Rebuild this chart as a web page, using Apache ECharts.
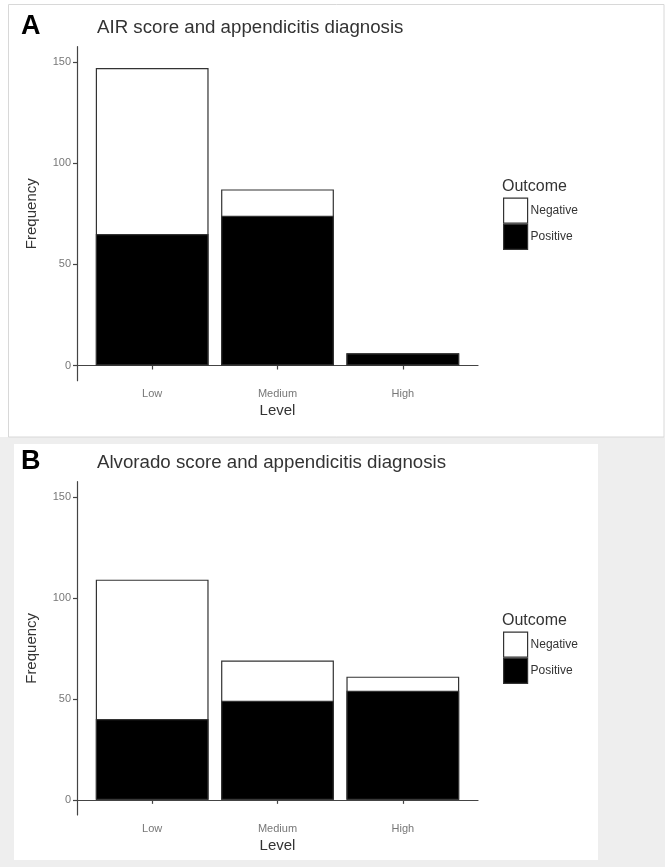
<!DOCTYPE html>
<html>
<head>
<meta charset="utf-8">
<script src="https://cdn.jsdelivr.net/npm/echarts@6/dist/echarts.min.js"></script>
<style>html,body{margin:0;padding:0;background:#fff}#c{width:665px;height:867px}</style>
</head>
<body>
<div id="c"></div>
<script>
const categories = ['Low', 'Medium', 'High'];
const airPositive = [65, 74, 6];
const airNegative = [82, 13, 0];
const alvPositive = [40, 49, 54];
const alvNegative = [69, 20, 7];
const yTicks = [0, 50, 100, 150];
const panelTitles = ['AIR score and appendicitis diagnosis', 'Alvorado score and appendicitis diagnosis'];
const panelLetters = ['A', 'B'];
const seriesNames = ['Negative', 'Positive'];

const FONT = 'Liberation Sans, Arial, Helvetica, sans-serif';
const xPos = categories.map((c, i) => i + 1);
const chart = echarts.init(document.getElementById('c'), null, {renderer: 'canvas'});

const grids = [
  {left: 77, top: 46.7, width: 401, height: 334},
  {left: 77, top: 481.7, width: 401, height: 333.3}
];
const axisLine = {show: true, lineStyle: {color: '#444', width: 1.2}};
function xAxis(i) {
  return {
    type: 'value', gridIndex: i, min: 0.4, max: 3.6,
    name: 'Level', nameLocation: 'middle', nameGap: 23,
    nameTextStyle: {fontFamily: FONT, fontSize: 15, color: '#333'},
    axisLine: axisLine,
    axisTick: {show: true, length: 4, customValues: xPos, lineStyle: {color: '#444', width: 1.2}},
    axisLabel: {customValues: xPos, margin: 8, fontFamily: FONT, fontSize: 11, color: '#777',
      formatter: v => categories[Math.round(v) - 1]},
    splitLine: {show: false}
  };
}
function yAxis(i) {
  return {
    type: 'value', gridIndex: i, min: -7.5, max: 157.5,
    name: 'Frequency', nameLocation: 'middle', nameGap: 38,
    nameTextStyle: {fontFamily: FONT, fontSize: 15, color: '#333'},
    axisLine: axisLine,
    axisTick: {show: true, length: 4, customValues: yTicks, lineStyle: {color: '#444', width: 1.2}},
    axisLabel: {customValues: yTicks, margin: 6, fontFamily: FONT, fontSize: 11, color: '#777'},
    splitLine: {show: false}
  };
}
const border = {borderColor: '#333', borderWidth: 1.2};
// Stacked look: the white "Negative" bar spans the full total (pos + neg),
// the black "Positive" bar is drawn over its lower part.
function bars(i, pos, neg) {
  const totals = pos.map((v, k) => v + neg[k]);
  return [
    {name: 'Negative', type: 'bar', xAxisIndex: i, yAxisIndex: i, barWidth: '90%', barGap: '-100%', z: 2,
      itemStyle: Object.assign({color: '#fff'}, border), data: totals.map((v, k) => [xPos[k], v]), silent: true},
    {name: 'Positive', type: 'bar', xAxisIndex: i, yAxisIndex: i, barWidth: '90%', barGap: '-100%', z: 3,
      itemStyle: Object.assign({color: '#000'}, border), data: pos.map((v, k) => [xPos[k], v]), silent: true}
  ];
}
function legend(top) {
  return {
    data: seriesNames, orient: 'vertical', left: 503, top: top, icon: 'rect', padding: 0,
    itemWidth: 24, itemHeight: 25, itemGap: 0, selectedMode: false,
    itemStyle: border,
    textStyle: {fontFamily: FONT, fontSize: 12, color: '#333', padding: [0, 0, 0, -2]}
  };
}
const titles = [];
[0, 1].forEach(i => {
  const off = i === 0 ? 0 : 435;
  titles.push({text: panelLetters[i], left: 21, top: 13 + off, padding: 0,
    textStyle: {fontFamily: FONT, fontSize: 27, fontWeight: 'bold', color: '#000'}});
  titles.push({text: panelTitles[i], left: 97, top: 18 + off, padding: 0,
    textStyle: {fontFamily: FONT, fontSize: 18.7, fontWeight: 'normal', color: '#333'}});
  titles.push({text: 'Outcome', left: 502, top: (i === 0 ? 179 : 613), padding: 0,
    textStyle: {fontFamily: FONT, fontSize: 16, fontWeight: 'normal', color: '#333'}});
});

chart.setOption({
  animation: false,
  backgroundColor: '#fff',
  graphic: [
    {type: 'rect', z: -10, silent: true, shape: {x: 0, y: 437, width: 665, height: 430}, style: {fill: '#eeeeee'}},
    {type: 'rect', z: -9, silent: true, shape: {x: 8.5, y: 4.5, width: 655.5, height: 432.5}, style: {fill: '#fff', stroke: '#d8d8d8', lineWidth: 1}},
    {type: 'rect', z: -9, silent: true, shape: {x: 14, y: 444, width: 584, height: 416}, style: {fill: '#fff'}}
  ],
  title: titles,
  grid: grids,
  xAxis: [xAxis(0), xAxis(1)],
  yAxis: [yAxis(0), yAxis(1)],
  legend: [legend(197.5), legend(631.5)],
  series: bars(0, airPositive, airNegative).concat(bars(1, alvPositive, alvNegative))
});
</script>
</body>
</html>
